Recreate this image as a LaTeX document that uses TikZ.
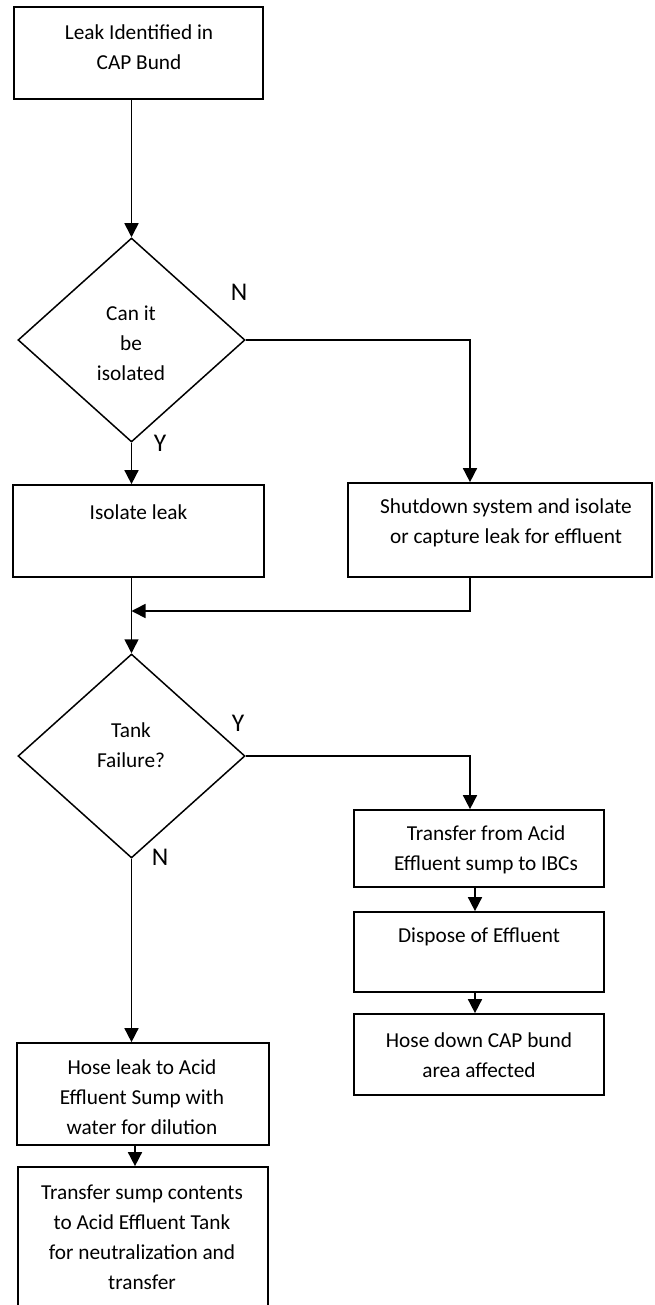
\documentclass[tikz,border=0pt]{standalone}
\usepackage{fontspec}
\setmainfont{Carlito}
\usetikzlibrary{shapes.geometric,arrows.meta}
\begin{document}
\begin{tikzpicture}[x=1pt,y=-1pt,
  box/.style={draw,line width=1.7pt,inner sep=0pt},
  dec/.style={draw,shape=diamond,line width=1.5pt,inner sep=0pt,
    minimum width=227pt,minimum height=204pt},
  txt/.style={align=center,inner sep=0pt,font=\fontsize{21.3}{30}\selectfont},
  yn/.style={inner sep=0pt,font=\fontsize{25.5}{30}\selectfont},
  arr/.style={line width=1.6pt,-{Triangle[length=14pt,width=14pt]}}]
\useasboundingbox (0,0) rectangle (654,1305);

% process boxes
\node[box,minimum width=249pt,minimum height=92pt] (b1) at (138.5,53) {};
\node[box,minimum width=251pt,minimum height=92pt] (b2) at (138.5,531) {};
\node[box,minimum width=304pt,minimum height=94pt] (b3) at (500,530) {};
\node[box,minimum width=250pt,minimum height=77pt] (b4) at (479,848.5) {};
\node[box,minimum width=250pt,minimum height=80pt] (b5) at (479,952) {};
\node[box,minimum width=250pt,minimum height=81pt] (b6) at (479,1054.5) {};
\node[box,minimum width=252pt,minimum height=102pt] (b7) at (143,1094) {};
\node[box,minimum width=250pt,minimum height=160pt] (b8) at (143,1247) {};

% decisions
\node[dec] (d1) at (131.5,340) {};
\node[dec] (d2) at (131.5,756) {};

% texts
\node[txt] (t1) at (139,47) {Leak Identified in\\CAP Bund};
\node[txt] (t2) at (131,343) {Can it\\be\\isolated};
\node[txt] (t3) at (138.5,512) {Isolate leak};
\node[txt] (t4) at (506,523) {Shutdown system and isolate\\or capture leak for effluent};
\node[txt] (t5) at (131,745) {Tank\\Failure?};
\node[txt] (t6) at (486,850) {Transfer from Acid\\Effluent sump to IBCs};
\node[txt] (t7) at (479,937) {Dispose of Effluent};
\node[txt] (t8) at (479,1055) {Hose down CAP bund\\area affected};
\node[txt] (t9) at (142,1097) {Hose leak to Acid\\Effluent Sump with\\water for dilution};
\node[txt] (t10) at (142,1237) {Transfer sump contents\\to Acid Effluent Tank\\for neutralization and\\transfer};

% branch labels
\node[yn] (n1) at (239,292) {N};
\node[yn] (y1) at (160,443) {Y};
\node[yn] (y2) at (238,723) {Y};
\node[yn] (n2) at (160,857) {N};

% connectors
\draw[arr] (d1.north |- b1.south) -- (d1.north);
\draw[arr] (d1.south) -- (d1.south |- b2.north);
\draw[arr] (d1.east) -| ([xshift=-30pt]b3.north);
\coordinate (m1) at (131.5,611);
\draw[arr] ([xshift=-30pt]b3.south) |- (m1);
\draw[arr] (d2.north |- b2.south) -- (d2.north);
\draw[arr] (d2.east) -| ([xshift=-9pt]b4.north);
\draw[arr] ([xshift=-4pt]b4.south) -- ([xshift=-4pt]b5.north);
\draw[arr] ([xshift=-4pt]b5.south) -- ([xshift=-4pt]b6.north);
\draw[arr] (d2.south) -- (d2.south |- b7.north);
\draw[arr] ([xshift=-8pt]b7.south) -- ([xshift=-8pt]b8.north);
\end{tikzpicture}
\end{document}
